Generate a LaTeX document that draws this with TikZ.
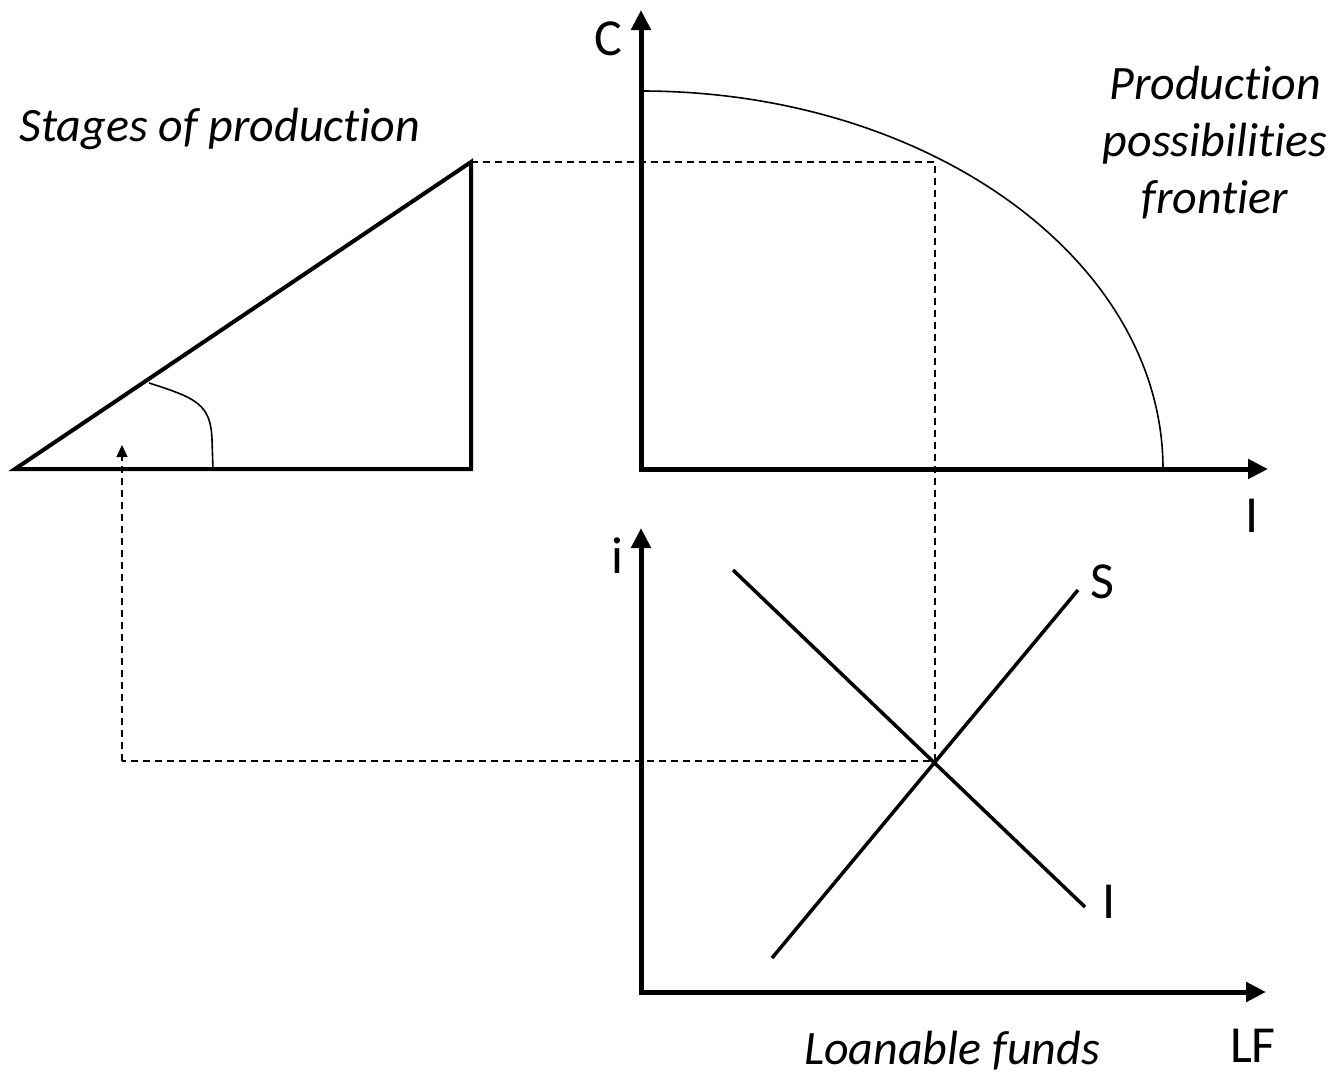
\documentclass[tikz,border=0pt]{standalone}
\usepackage{fontspec}
\setmainfont[Ligatures={NoCommon}]{Carlito}
\usetikzlibrary{arrows.meta}
\begin{document}
\begin{tikzpicture}[x=1pt,y=-1pt,
  axis/.style={line width=5pt,-{Triangle[length=20pt,width=19pt]}},
  tri/.style={line width=4pt,line join=miter},
  curveline/.style={line width=1.6pt},
  guide/.style={line width=1.4pt,dash pattern=on 7pt off 5pt},
  mkt/.style={line width=3.5pt},
  axlabel/.style={font=\fontsize{52}{56}\selectfont,anchor=base,inner sep=0pt},
  title/.style={font=\fontsize{48}{57}\selectfont\itshape,align=center,inner sep=0pt}]
\useasboundingbox (0,0) rectangle (1334,1074);
% key points
\coordinate (O1) at (641,469);
\coordinate (Ctip) at (641,10);
\coordinate (Itip) at (1268,469);
\coordinate (O2) at (641,992);
\coordinate (itip) at (641,528);
\coordinate (LFtip) at (1266,992);
\coordinate (A) at (15,469);
\coordinate (B) at (471,162);
\coordinate (R) at (471,469);
\coordinate (P0) at (641,91);
\coordinate (P1) at (1163,469);
\coordinate (Q) at (935,162);
\coordinate (E) at (935,761);
\coordinate (L) at (122,761);
\coordinate (Lt) at (122,445);
\coordinate (I0) at (733,570);
\coordinate (I1) at (1085,907);
\coordinate (S0) at (772,958);
\coordinate (S1) at (1078,590);
\coordinate (h0) at (149,383);
\coordinate (h1) at (213,469);
% dashed guides
\draw[guide] (B) -- (Q) -- (E) -- (L);
\draw[guide,-{Triangle[length=12pt,width=11pt]}] (L) -- (Lt);
% triangle
\draw[tri] (A) -- (B) -- (R) -- cycle;
\draw[curveline] (h0) .. controls (196,398) and (211,404) .. (212,440) -- (h1);
% PPF
\draw[curveline] (P0) .. controls (929,91) and (1163,260) .. (P1);
% axes
\draw[axis] (O1) -- (Ctip);
\draw[axis] ([xshift=-2.5pt]O1) -- (Itip);
\draw[axis] (O2) -- (itip);
\draw[axis] ([xshift=-2.5pt]O2) -- (LFtip);
% market lines
\draw[mkt] (I0) -- (I1);
\draw[mkt] (S0) -- (S1);
% labels
\node[axlabel] (lC) at (608,55) {C};
\node[axlabel] (lI) at (1252,532) {I};
\node[axlabel] (li) at (617,573) {i};
\node[axlabel] (lS) at (1102,598) {S};
\node[axlabel] (lI2) at (1109,918) {I};
\node[axlabel] (lLF) at (1253,1062) {LF};
\node[title,anchor=base] (tSP) at (220,141) {Stages of production};
\node[title,anchor=base] (tLF) at (952,1064) {Loanable funds};
\node[title] (tPPF) at (1215,143) {Production\\possibilities\\frontier};
\end{tikzpicture}
\end{document}
